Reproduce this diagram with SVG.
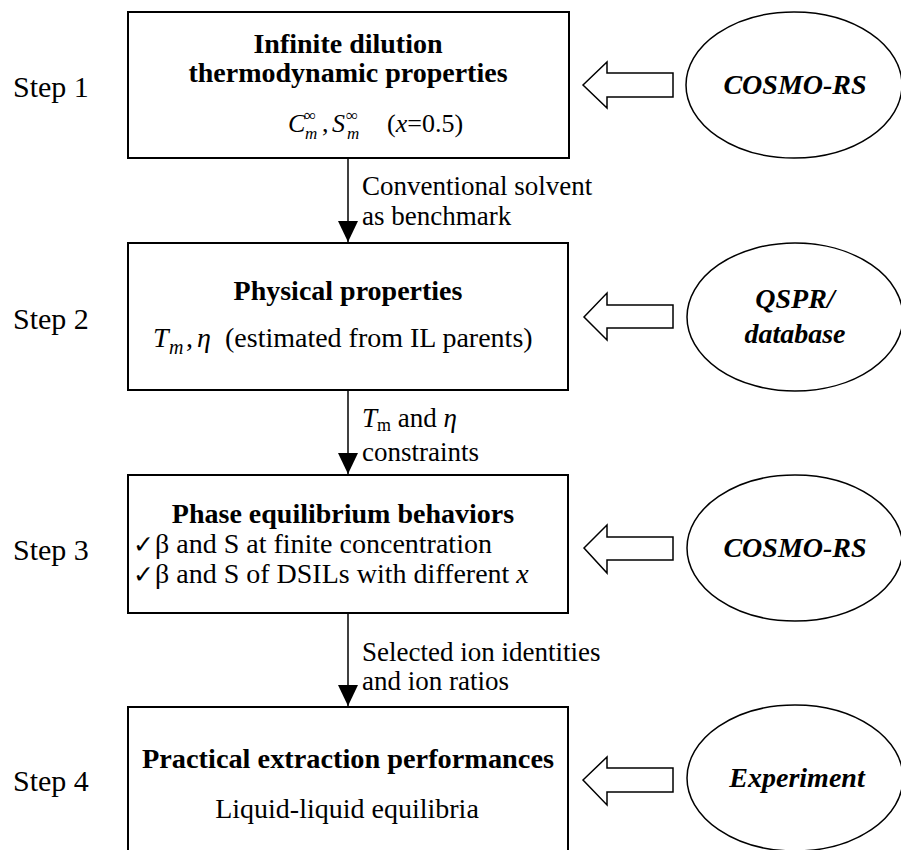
<svg xmlns="http://www.w3.org/2000/svg" width="901" height="850" viewBox="0 0 901 850">
<style>
.box{fill:#fff;stroke:#000;stroke-width:2}
.ell{fill:#fff;stroke:#000;stroke-width:1.5}
.barrow{fill:#fff;stroke:#000;stroke-width:1.5;stroke-linejoin:miter}
.conn{stroke:#000;stroke-width:1.5;fill:none}
text{font-family:"Liberation Serif","Times New Roman",serif;fill:#000}
.b{font-weight:bold;font-size:28px}
.r{font-size:28px}
.c{font-size:27px}
.i{font-style:italic}
.bi{font-weight:bold;font-style:italic;font-size:28px}
.step{font-size:30px}
.mid{text-anchor:middle}
.chk{font-family:"DejaVu Sans",sans-serif;font-size:25px}
</style>
<defs>
<marker id="ah" markerUnits="userSpaceOnUse" markerWidth="22" markerHeight="22" refX="21" refY="10" orient="auto" viewBox="0 0 22 22">
<path d="M0,0 L21,10 L0,20 Z" fill="#000"/>
</marker>
</defs>
<rect width="901" height="850" fill="#fff"/>

<g id="steps">
<text class="step" x="13" y="97">Step 1</text>
<text class="step" x="13" y="329">Step 2</text>
<text class="step" x="13" y="560">Step 3</text>
<text class="step" x="13" y="791">Step 4</text>
</g>

<g id="connectors">
<line class="conn" x1="348" y1="158" x2="348" y2="242" marker-end="url(#ah)"/>
<line class="conn" x1="348" y1="390" x2="348" y2="474" marker-end="url(#ah)"/>
<line class="conn" x1="348" y1="613" x2="348" y2="706" marker-end="url(#ah)"/>
<text class="c" x="362" y="195">Conventional solvent</text>
<text class="c" x="362" y="225">as benchmark</text>
<text class="c" x="362" y="427"><tspan class="i">T</tspan><tspan font-size="18" dy="4">m</tspan><tspan dy="-4"> and </tspan><tspan class="i">η</tspan></text>
<text class="c" x="362" y="461">constraints</text>
<text class="c" x="362" y="661">Selected ion identities</text>
<text class="c" x="362" y="690">and ion ratios</text>
</g>

<g id="block-arrows">
<polygon class="barrow" points="583,85 607,62 607,73 673,73 673,97 607,97 607,108"/>
<polygon class="barrow" points="584,317 607,293 607,305 673,305 673,328 607,328 607,340"/>
<polygon class="barrow" points="584,548 607,525 607,537 673,537 673,560 607,560 607,573"/>
<polygon class="barrow" points="583,780 607,757 607,768 673,768 673,792 607,792 607,805"/>
</g>

<g id="node1">
<rect class="box" x="128" y="12" width="441" height="146"/>
<text class="b mid" x="348" y="53">Infinite dilution</text>
<text class="b mid" x="348" y="82">thermodynamic properties</text>
<text font-size="26" y="132"><tspan class="i" x="288">C</tspan><tspan font-size="17" x="304" y="121">∞</tspan><tspan class="i" font-size="17" x="305" y="139">m</tspan><tspan x="322" y="132">,</tspan><tspan class="i" x="332">S</tspan><tspan font-size="17" x="346" y="121">∞</tspan><tspan class="i" font-size="17" x="347" y="139">m</tspan><tspan x="387" y="132">(</tspan><tspan class="i">x</tspan><tspan>=0.5)</tspan></text>
</g>

<g id="node2">
<rect class="box" x="128" y="243" width="440" height="147"/>
<text class="b mid" x="348" y="300">Physical properties</text>
<text class="r" y="347"><tspan class="i" x="153">T</tspan><tspan class="i" font-size="20" x="169" y="354">m</tspan><tspan x="186" y="347">,</tspan><tspan class="i" x="197">η</tspan><tspan x="225">(estimated from IL parents)</tspan></text>
</g>

<g id="node3">
<rect class="box" x="128" y="475" width="440" height="138"/>
<text class="b mid" x="343" y="523">Phase equilibrium behaviors</text>
<text class="chk" x="133" y="553">✓</text>
<text class="r" x="155" y="553">β and S at finite concentration</text>
<text class="chk" x="133" y="583">✓</text>
<text class="r" x="155" y="583">β and S of DSILs with different <tspan class="i">x</tspan></text>
</g>

<g id="node4">
<rect class="box" x="128" y="707" width="440" height="170"/>
<text class="b mid" x="348" y="768" textLength="412" lengthAdjust="spacingAndGlyphs">Practical extraction performances</text>
<text class="r mid" x="347" y="818">Liquid-liquid equilibria</text>
</g>

<g id="src1">
<ellipse class="ell" cx="794" cy="85" rx="108" ry="73"/>
<text class="bi mid" x="795" y="94">COSMO-RS</text>
</g>
<g id="src2">
<ellipse class="ell" cx="795" cy="317" rx="108" ry="74"/>
<text class="bi mid" x="795" y="308">QSPR/</text>
<text class="bi mid" x="795" y="343">database</text>
</g>
<g id="src3">
<ellipse class="ell" cx="795" cy="548" rx="108" ry="73"/>
<text class="bi mid" x="795" y="557">COSMO-RS</text>
</g>
<g id="src4">
<ellipse class="ell" cx="795" cy="778" rx="108" ry="73"/>
<text class="bi mid" x="797" y="787">Experiment</text>
</g>
</svg>
